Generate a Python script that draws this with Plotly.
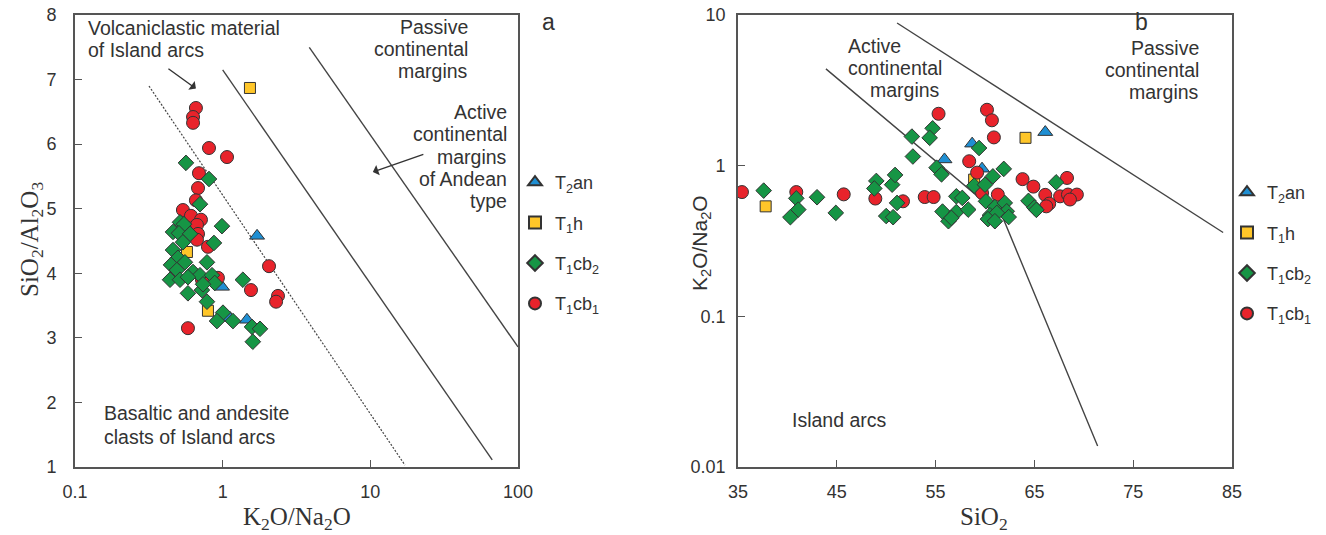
import math
import plotly.graph_objects as go

# page body has an 8px margin; the figure is sized so it fills the 1326x535 window
OFF = 8
W, H = 1326 - OFF, 535 - OFF

# ---------------- Panel a data (K2O/Na2O vs SiO2/Al2O3) ----------------
a_T2an_x = [1.71, 0.99, 1.46, 1.12]
a_T2an_y = [4.58, 3.79, 3.28, 3.31]

a_T1h_x = [1.53, 0.573, 0.795]
a_T1h_y = [6.87, 4.33, 3.42]

a_T1cb1_x = [0.659, 0.630, 0.630, 0.808, 1.07, 0.691, 0.681, 0.659, 0.538, 0.610, 0.713,
             0.670, 0.681, 0.670, 0.795, 2.06, 0.929, 0.724, 1.555, 2.37, 2.30, 0.582]
a_T1cb1_y = [6.56, 6.42, 6.33, 5.94, 5.80, 5.55, 5.32, 5.13, 4.98, 4.89, 4.83,
             4.75, 4.61, 4.52, 4.41, 4.11, 3.93, 3.90, 3.74, 3.65, 3.56, 3.15]

a_T1cb2_x = [0.564, 0.808, 0.702, 0.989, 0.514, 0.547, 0.461, 0.506, 0.601, 0.538, 0.873,
             0.461, 0.498, 0.555, 0.783, 0.447, 0.490, 0.630, 0.702, 0.847, 0.440, 0.514,
             0.582, 0.724, 0.582, 0.783, 1.005, 0.915, 1.174, 1.58, 1.79, 1.60, 1.37,
             0.884, 0.736]
a_T1cb2_y = [5.71, 5.46, 5.07, 4.73, 4.79, 4.76, 4.64, 4.62, 4.61, 4.48, 4.47,
             4.36, 4.24, 4.17, 4.17, 4.13, 4.05, 4.02, 3.97, 3.97, 3.90, 3.90,
             3.94, 3.74, 3.69, 3.56, 3.39, 3.26, 3.26, 3.17, 3.14, 2.94, 3.90,
             3.85, 3.83]

# discrimination boundaries, panel a
a_dotted_x = [0.317, 17.15]
a_dotted_y = [6.90, 1.03]
a_line1_x = [1.0, 66.9]
a_line1_y = [7.15, 1.11]
a_line2_x = [3.86, 100.0]
a_line2_y = [7.50, 2.86]

a_xticks = [0.1, 1, 10, 100]
a_xticklabels = ["0.1", "1", "10", "100"]
a_yticks = [1, 2, 3, 4, 5, 6, 7, 8]

# ---------------- Panel b data (SiO2 vs K2O/Na2O) ----------------
b_T2an_x = [58.7, 55.9, 59.7, 66.1]
b_T2an_y = [1.40, 1.10, 0.955, 1.67]

b_T1h_x = [37.8, 64.1, 58.9]
b_T1h_y = [0.537, 1.53, 0.808]

b_T1cb1_x = [35.4, 40.9, 45.7, 48.9, 51.7, 53.9, 54.8, 55.3, 58.4, 59.2, 59.7, 60.2, 60.7,
             60.9, 61.3, 63.8, 64.9, 66.1, 66.5, 67.6, 68.3, 68.4, 69.3, 68.6, 66.2]
b_T1cb1_y = [0.668, 0.668, 0.645, 0.605, 0.580, 0.619, 0.619, 2.21, 1.07, 0.899, 0.659, 2.35, 2.0,
             1.54, 0.643, 0.814, 0.726, 0.640, 0.560, 0.626, 0.829, 0.643, 0.643, 0.596, 0.537]

b_T1cb2_x = [37.6, 40.9, 41.1, 40.3, 43.0, 44.9, 49.0, 48.8, 50.6, 50.9, 51.1, 50.0, 50.7,
             52.6, 52.7, 54.7, 54.4, 55.1, 55.6, 57.1, 57.7, 55.7, 57.1, 56.3, 56.6, 58.3,
             59.4, 58.9, 60.0, 61.9, 60.8, 67.2, 64.4, 65.0, 65.2, 60.1, 61.0, 62.0, 62.2,
             62.4, 60.5, 61.2, 60.3, 61.0]
b_T1cb2_y = [0.683, 0.607, 0.511, 0.455, 0.617, 0.486, 0.792, 0.706, 0.748, 0.868, 0.566, 0.463, 0.455,
             1.56, 1.15, 1.77, 1.53, 0.97, 0.876, 0.626, 0.611, 0.496, 0.492, 0.428, 0.450, 0.511,
             1.31, 0.737, 0.748, 0.952, 0.849, 0.775, 0.584, 0.527, 0.509, 0.580, 0.531, 0.566, 0.498,
             0.456, 0.469, 0.486, 0.442, 0.428]

b_acm_x = [43.9, 61.8, 71.4]
b_acm_y = [4.39, 0.453, 0.0138]
b_pm_x = [51.1, 84.1]
b_pm_y = [8.85, 0.36]

b_xticks = [35, 45, 55, 65, 75, 85]
b_yticks = [0.01, 0.1, 1, 10]
b_yticklabels = ["0.01", "0.1", "1", "10"]

# ---------------- styles ----------------
SANS = "Liberation Sans, Arial, sans-serif"
SERIF = "Liberation Serif, Times New Roman, serif"
TXT = "#333333"
LINE = "#444444"
OUT = dict(color="#333333", width=1)

groups = [
    ("T<sub>2</sub>an", "triangle-up", "#1F8FD3", 13, 1),
    ("T<sub>1</sub>h", "square", "#FFC629", 11, 2),
    ("T<sub>1</sub>cb<sub>1</sub>", "circle", "#E8232B", 13, 4),
    ("T<sub>1</sub>cb<sub>2</sub>", "diamond", "#169545", 12, 3),
]
a_data = [(a_T2an_x, a_T2an_y), (a_T1h_x, a_T1h_y), (a_T1cb1_x, a_T1cb1_y), (a_T1cb2_x, a_T1cb2_y)]
b_data = [(b_T2an_x, b_T2an_y), (b_T1h_x, b_T1h_y), (b_T1cb1_x, b_T1cb1_y), (b_T1cb2_x, b_T1cb2_y)]

fig = go.Figure()

# boundary lines
fig.add_trace(go.Scatter(x=a_dotted_x, y=a_dotted_y, mode="lines", xaxis="x", yaxis="y",
                         line=dict(color=LINE, width=1.2, dash="2px,1.6px"), showlegend=False, hoverinfo="skip"))
for lx, ly in [(a_line1_x, a_line1_y), (a_line2_x, a_line2_y)]:
    fig.add_trace(go.Scatter(x=lx, y=ly, mode="lines", xaxis="x", yaxis="y",
                             line=dict(color=LINE, width=1.4), showlegend=False, hoverinfo="skip"))
for lx, ly in [(b_acm_x, b_acm_y), (b_pm_x, b_pm_y)]:
    fig.add_trace(go.Scatter(x=lx, y=ly, mode="lines", xaxis="x2", yaxis="y2",
                             line=dict(color=LINE, width=1.4), showlegend=False, hoverinfo="skip"))

for (name, sym, col, size, rank), (ax_, ay_), (bx_, by_) in zip(groups, a_data, b_data):
    fig.add_trace(go.Scatter(x=ax_, y=ay_, mode="markers", name=name, xaxis="x", yaxis="y",
                             marker=dict(symbol=sym, color=col, size=size, line=OUT),
                             legend="legend", legendrank=rank, legendgroup="a" + str(rank)))
    fig.add_trace(go.Scatter(x=bx_, y=by_, mode="markers", name=name, xaxis="x2", yaxis="y2",
                             marker=dict(symbol=sym, color=col, size=size, line=OUT),
                             legend="legend2", legendrank=rank, legendgroup="b" + str(rank)))


def pxx(x):
    return (x - OFF) / W


def pyy(y):
    return 1 - (y - OFF) / H


ydom = [pyy(467), pyy(15)]
axis_common = dict(showline=True, linecolor="#555555", linewidth=1.6, mirror=True,
                   ticks="inside", ticklen=7, tickwidth=1.4, tickcolor="#555555",
                   showgrid=False, zeroline=False, automargin=False,
                   ticklabeloverflow="allow",
                   tickfont=dict(family=SANS, size=18, color=TXT))

fig.update_layout(
    width=W, height=H,
    margin=dict(l=0, r=0, t=0, b=0, autoexpand=False),
    paper_bgcolor="white", plot_bgcolor="white",
    xaxis=dict(domain=[pxx(75), pxx(518)], type="log", range=[-1, 2],
               tickvals=a_xticks, ticktext=a_xticklabels, anchor="y",
               ticklabelstandoff=8, **axis_common),
    yaxis=dict(domain=ydom, range=[1, 8], tickvals=a_yticks, anchor="x",
               ticklabelstandoff=13, **axis_common),
    xaxis2=dict(domain=[pxx(738), pxx(1232)], range=[35, 85], tickvals=b_xticks,
                anchor="y2", ticklabelstandoff=8, **axis_common),
    yaxis2=dict(domain=ydom, type="log", range=[-2, 1], tickvals=b_yticks,
                ticktext=b_yticklabels, anchor="x2", ticklabelstandoff=7, **axis_common),
    legend=dict(x=pxx(515), y=pyy(164), xanchor="left", yanchor="top",
                font=dict(family=SANS, size=18, color=TXT), bgcolor="rgba(0,0,0,0)",
                traceorder="grouped", tracegroupgap=14, itemsizing="constant"),
    legend2=dict(x=pxx(1227), y=pyy(174), xanchor="left", yanchor="top",
                 font=dict(family=SANS, size=18, color=TXT), bgcolor="rgba(0,0,0,0)",
                 traceorder="grouped", tracegroupgap=14, itemsizing="constant"),
)

ann = []


def text(t, x, y, anchor="left", size=19.5, family=SANS, angle=0):
    ann.append(dict(text=t, x=pxx(x), y=pyy(y), xref="paper", yref="paper",
                    xanchor=anchor, yanchor="middle", showarrow=False, textangle=angle,
                    font=dict(family=family, size=size, color=TXT)))


# panel a texts
text("Volcaniclastic material", 86, 28)
text("of Island arcs", 86, 50)
for t, y in [("Passive", 27), ("continental", 49), ("margins", 71)]:
    text(t, 470, y, anchor="right")
for t, y in [("Active", 112), ("continental", 134), ("margins", 157), ("of Andean", 179), ("type", 201)]:
    text(t, 509, y, anchor="right")
text("Basaltic and andesite", 102, 413)
text("clasts of Island arcs", 102, 437)
text("a", 548, 22, anchor="center", size=23)

# panel b texts
text("Active", 846, 46)
text("continental", 846, 68)
text("margins", 868, 90)
for t, y in [("Passive", 48), ("continental", 70), ("margins", 92)]:
    text(t, 1201, y, anchor="right")
text("Island arcs", 790, 420)
text("b", 1141, 22, anchor="center", size=23)

# axis titles
text("K<sub>2</sub>O/Na<sub>2</sub>O", 297, 518, anchor="center", size=25, family=SERIF)
text("SiO<sub>2</sub>/Al<sub>2</sub>O<sub>3</sub>", 32, 240, anchor="center", size=25, family=SERIF, angle=-90)
text("SiO<sub>2</sub>", 984, 518, anchor="center", size=25, family=SERIF)
text("K<sub>2</sub>O/Na<sub>2</sub>O", 701, 243, anchor="center", size=21, family=SANS, angle=-90)

# arrows (log axis -> annotation x given as log10)
ann.append(dict(x=math.log10(0.659), y=6.86, xref="x", yref="y", ax=-29, ay=-21, showarrow=True,
                arrowhead=1, arrowsize=1.3, arrowwidth=1.4, arrowcolor="#333333", text=""))
ann.append(dict(x=math.log10(10.4), y=5.57, xref="x", yref="y", ax=52, ay=-18, showarrow=True,
                arrowhead=1, arrowsize=1.3, arrowwidth=1.4, arrowcolor="#333333", text=""))

fig.update_layout(annotations=ann)
fig.write_html("out.html")
